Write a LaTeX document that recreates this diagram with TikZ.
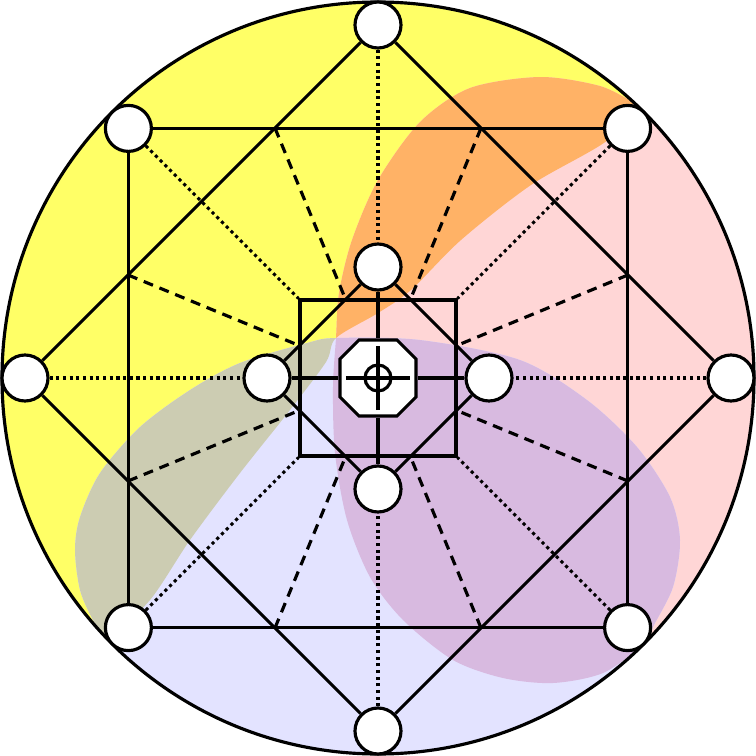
\documentclass[tikz,border=0pt]{standalone}
\usepackage{tikz}

\definecolor{zoneyellow}{RGB}{255,255,102}
\definecolor{zonepink}{RGB}{255,214,214}
\definecolor{zoneblue}{RGB}{227,227,255}
\definecolor{zoneorange}{RGB}{255,178,102}
\definecolor{zonegray}{RGB}{204,204,178}
\definecolor{zonepurple}{RGB}{216,186,224}

% the three zones, each meant to be clipped to the disc
\newcommand{\yellowzone}{plot[smooth] coordinates {(-2.71,-2.62) (-2.28,-2.22) (-1.88,-1.62) (-1.38,-0.95) (-0.88,-0.32) (-0.52,0.16) (-0.42,0.40) (0,0.65) (0.33,0.88) (0.83,1.38) (1.53,1.93) (2.30,2.38) (2.56,2.75)} -- (4,4) -- (-4,4) -- (-4,-4) -- cycle}
\newcommand{\pinkzone}{plot[smooth] coordinates {(2.68,-2.66) (2.25,-2.95) (1.75,-3.05) (1.25,-3.00) (0.75,-2.82) (0.25,-2.42) (-0.08,-1.99) (-0.31,-1.42) (-0.43,-0.75) (-0.45,-0.09) (-0.42,0.40) (-0.39,0.85) (-0.26,1.38) (0,1.98) (0.42,2.56) (0.92,2.90) (1.62,3.01) (2.22,2.92) (2.56,2.75)} -- (4,4) -- (4,-4) -- cycle}
\newcommand{\bluezone}{plot[smooth] coordinates {(-2.71,-2.62) (-2.85,-2.42) (-2.98,-2.12) (-3.03,-1.72) (-2.98,-1.39) (-2.78,-0.95) (-2.38,-0.49) (-1.88,-0.12) (-1.38,0.15) (-0.71,0.35) (-0.42,0.40) (0.42,0.38) (1.42,0.18) (2.09,-0.22) (2.59,-0.69) (2.92,-1.19) (3.02,-1.62) (2.95,-2.09) (2.75,-2.49) (2.68,-2.66)} -- (4,-4) -- (-4,-4) -- cycle}

\begin{document}
\begin{tikzpicture}[
        line width=0.9pt,
        spot/.style = {circle, draw, fill=white, minimum size=0.46cm, inner sep=0pt},
        spoke/.style = {densely dotted},
        rib/.style = {dash pattern=on 0.1cm off 0.07cm}
    ]
        \useasboundingbox (-3.78,-3.78) rectangle (3.78,3.78);
        % coloured zones
        \begin{scope}
            \clip (0,0) circle (3.76);
            \fill[zoneyellow] \yellowzone;
            \fill[zonepink] \pinkzone;
            \fill[zoneblue] \bluezone;
            \begin{scope}
                \clip \yellowzone;
                \fill[zoneorange] \pinkzone;
                \fill[zonegray] \bluezone;
            \end{scope}
            \begin{scope}
                \clip \pinkzone;
                \fill[zonepurple] \bluezone;
            \end{scope}
        \end{scope}
        \draw (0,0) circle (3.76);

        \foreach \a in {0,45,...,315}
            \node[spot] (o\a) at (\a:3.53) {};
        \foreach \a in {0,90,180,270}
            \node[spot] (i\a) at (\a:1.11) {};
        \node[draw, minimum size=1.56cm, inner sep=0pt] (box) at (0,0) {};
        \node[minimum size=0.76cm, inner sep=0pt] (hub) at (0,0) {};
        % octagon round the hub
        \filldraw[fill=white] (-0.19,0.38) -- (0.19,0.38) -- (0.38,0.19) -- (0.38,-0.19)
            -- (0.19,-0.38) -- (-0.19,-0.38) -- (-0.38,-0.19) -- (-0.38,0.19) -- cycle;

        \draw (o90) -- (o180) -- (o270) -- (o0) -- (o90);
        \draw (o45) -- (o135) -- (o225) -- (o315) -- (o45);
        \draw (i90) -- (i180) -- (i270) -- (i0) -- (i90);
        \foreach \a in {0,90,180,270} {
            \draw (i\a) -- (hub);
            \draw[spoke] (o\a) -- (i\a);
        }
        \draw[spoke] (o45) -- (box.north east);
        \draw[spoke] (o135) -- (box.north west);
        \draw[spoke] (o225) -- (box.south west);
        \draw[spoke] (o315) -- (box.south east);
        \foreach \a [count=\i] in {22.4,67.6,112.4,157.6,202.4,247.6,292.4,337.6} {
            \coordinate (rin\i) at (\a:0.843);
            \coordinate (rout\i) at (\a:2.704);
            \draw[rib] (rout\i) -- (rin\i);
        }
        % cross hair
        \draw (hub.center) circle (0.13);
        \draw (-0.32,0) -- (0.32,0) (0,-0.32) -- (0,0.32);
    \end{tikzpicture}
\end{document}
